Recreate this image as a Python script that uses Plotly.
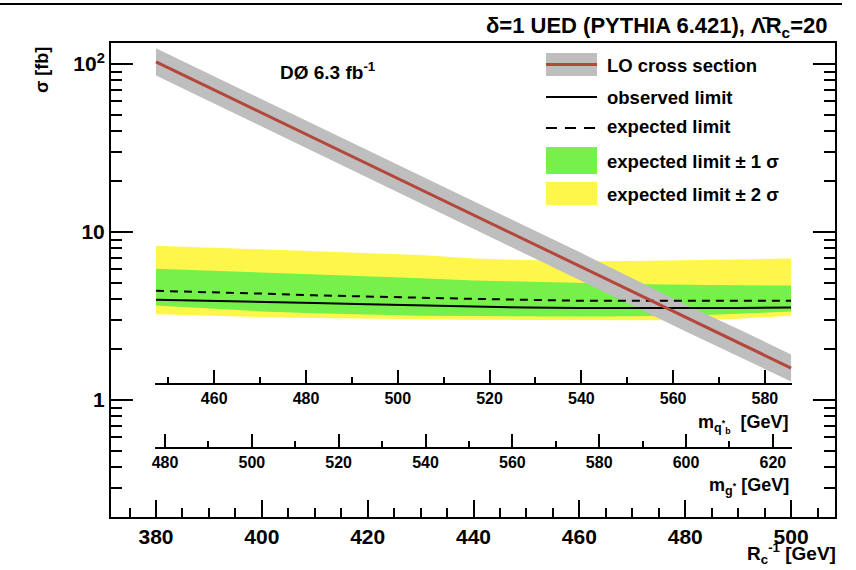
import plotly.graph_objects as go

# ---------------- data ----------------
R_inv = [380, 390, 400, 410, 420, 430, 440, 450, 460, 470, 480, 490, 500]
lo_xsec = [103, 72.6, 51.2, 36.1, 25.4, 17.9, 12.6, 8.9, 6.3, 4.4, 3.1, 2.2, 1.55]
lo_up = [124, 87.5, 61.7, 43.5, 30.6, 21.6, 15.2, 10.7, 7.6, 5.3, 3.7, 2.65, 1.87]
lo_dn = [85.5, 60.3, 42.5, 30.0, 21.1, 14.9, 10.5, 7.4, 5.2, 3.65, 2.57, 1.83, 1.29]
obs_limit = [3.95, 3.88, 3.82, 3.78, 3.72, 3.66, 3.60, 3.55, 3.53, 3.52, 3.52, 3.53, 3.55]
exp_limit = [4.47, 4.40, 4.30, 4.20, 4.12, 4.05, 4.00, 3.95, 3.90, 3.90, 3.90, 3.90, 3.90]
exp_1s_up = [6.05, 5.90, 5.75, 5.60, 5.45, 5.30, 5.15, 5.05, 4.95, 4.90, 4.85, 4.82, 4.80]
exp_1s_dn = [3.65, 3.50, 3.37, 3.28, 3.22, 3.18, 3.16, 3.14, 3.14, 3.15, 3.18, 3.26, 3.36]
exp_2s_up = [8.30, 8.10, 7.90, 7.70, 7.50, 7.30, 6.95, 6.80, 6.70, 6.72, 6.80, 6.88, 6.95]
exp_2s_dn = [3.24, 3.17, 3.11, 3.08, 3.05, 3.03, 3.01, 3.00, 2.99, 2.96, 2.98, 3.05, 3.17]

x_ticks = [380, 400, 420, 440, 460, 480, 500]
y_ticks = [1, 10, 100]
y_ticktext = ["1", "10", "10<sup>2</sup>"]
mq_ticks = [460, 480, 500, 520, 540, 560, 580]
mg_ticks = [480, 500, 520, 540, 560, 580, 600, 620]

# ---------------- geometry helpers (pixels -> paper) ----------------
W, H = 856, 570
L, Rr, T, B = 111, 835, 43, 517
def px(x):
    return (x - L) / (Rr - L)
def py(y):
    return (B - y) / (B - T)

FONT = "Liberation Sans"
YELLOW = "#FFF64C"
GREEN = "#76F04A"
GRAY = "#BEBEBE"
RED = "#B4463C"

fig = go.Figure()

# yellow band
fig.add_trace(go.Scatter(x=R_inv, y=exp_2s_dn, mode="lines", line=dict(width=0),
                         showlegend=False, hoverinfo="skip"))
fig.add_trace(go.Scatter(x=R_inv, y=exp_2s_up, mode="lines", line=dict(width=0),
                         fill="tonexty", fillcolor=YELLOW, showlegend=False, hoverinfo="skip"))
# green band
fig.add_trace(go.Scatter(x=R_inv, y=exp_1s_dn, mode="lines", line=dict(width=0),
                         showlegend=False, hoverinfo="skip"))
fig.add_trace(go.Scatter(x=R_inv, y=exp_1s_up, mode="lines", line=dict(width=0),
                         fill="tonexty", fillcolor=GREEN, showlegend=False, hoverinfo="skip"))
# gray band
fig.add_trace(go.Scatter(x=R_inv, y=lo_dn, mode="lines", line=dict(width=0),
                         showlegend=False, hoverinfo="skip"))
fig.add_trace(go.Scatter(x=R_inv, y=lo_up, mode="lines", line=dict(width=0),
                         fill="tonexty", fillcolor=GRAY, showlegend=False, hoverinfo="skip"))
# limits
fig.add_trace(go.Scatter(x=R_inv, y=obs_limit, mode="lines", line=dict(color="black", width=2),
                         showlegend=False))
fig.add_trace(go.Scatter(x=R_inv, y=exp_limit, mode="lines",
                         line=dict(color="black", width=2, dash="8px,6px"), showlegend=False))
# LO line
fig.add_trace(go.Scatter(x=R_inv, y=lo_xsec, mode="lines", line=dict(color=RED, width=3),
                         showlegend=False))

# dummy traces so the secondary mass axes are drawn
fig.add_trace(go.Scatter(x=mq_ticks, y=[None] * len(mq_ticks), xaxis="x2", yaxis="y",
                         showlegend=False, hoverinfo="skip", mode="lines"))
fig.add_trace(go.Scatter(x=mg_ticks, y=[None] * len(mg_ticks), xaxis="x3", yaxis="y",
                         showlegend=False, hoverinfo="skip", mode="lines"))

minor_y = [v * d for d in (0.1, 1, 10) for v in range(2, 10)]

sec_dom = [px(155), px(792)]

fig.update_layout(
    width=W, height=H,
    margin=dict(l=L, r=W - Rr, t=T, b=H - B),
    paper_bgcolor="white", plot_bgcolor="rgba(0,0,0,0)",
    font=dict(family=FONT, color="black"),
    xaxis=dict(range=[371.5, 508.3], tickvals=x_ticks, ticks="inside", ticklen=17, tickwidth=2,
               tickcolor="black", showline=True, linecolor="black", linewidth=2, mirror=True,
               showgrid=False, zeroline=False,
               tickfont=dict(size=21, family=FONT, weight="bold"),
               minor=dict(dtick=5, tick0=380, ticks="inside", ticklen=9, tickwidth=2,
                          tickcolor="black", showgrid=False)),
    yaxis=dict(type="log", range=[-0.696, 2.125], tickvals=y_ticks, ticktext=y_ticktext,
               ticks="inside", ticklen=22, tickwidth=2, tickcolor="black",
               showline=True, linecolor="black", linewidth=2, mirror="ticks",
               showgrid=False, zeroline=False,
               tickfont=dict(size=21, family=FONT, weight="bold"),
               minor=dict(tickvals=minor_y, ticks="inside", ticklen=11, tickwidth=2,
                          tickcolor="black", showgrid=False)),
    xaxis2=dict(domain=sec_dom, anchor="free", position=py(384), range=[447.1, 585.9],
                tick0=460, dtick=20, ticks="inside", ticklen=13, tickwidth=2, tickcolor="black",
                showline=True, linecolor="black", linewidth=2, showgrid=False, zeroline=False,
                tickfont=dict(size=16, family=FONT, weight="bold"),
                minor=dict(dtick=10, ticks="inside", ticklen=6, tickwidth=2,
                           tickcolor="black", showgrid=False)),
    xaxis3=dict(domain=sec_dom, anchor="free", position=py(448), range=[477.7, 624.4],
                tick0=480, dtick=20, ticks="inside", ticklen=13, tickwidth=2, tickcolor="black",
                showline=True, linecolor="black", linewidth=2, showgrid=False, zeroline=False,
                tickfont=dict(size=16, family=FONT, weight="bold"),
                minor=dict(dtick=10, ticks="inside", ticklen=6, tickwidth=2,
                           tickcolor="black", showgrid=False)),
    showlegend=False,
)

# ---------------- legend (drawn manually) ----------------
shapes = []
annotations = []
sx0, sx1 = px(546), px(597)
# LO band symbol
shapes.append(dict(type="rect", xref="paper", yref="paper", x0=sx0, x1=sx1, y0=py(76), y1=py(53),
                   fillcolor=GRAY, line=dict(width=0), layer="above"))
shapes.append(dict(type="line", xref="paper", yref="paper", x0=sx0, x1=sx1, y0=py(64.5), y1=py(64.5),
                   line=dict(color=RED, width=3), layer="above"))
# observed
shapes.append(dict(type="line", xref="paper", yref="paper", x0=sx0, x1=sx1, y0=py(97), y1=py(97),
                   line=dict(color="black", width=2), layer="above"))
# expected
shapes.append(dict(type="line", xref="paper", yref="paper", x0=sx0, x1=sx1, y0=py(128), y1=py(128),
                   line=dict(color="black", width=2, dash="11px,8px"), layer="above"))
# 1 sigma
shapes.append(dict(type="rect", xref="paper", yref="paper", x0=sx0, x1=sx1, y0=py(174), y1=py(147),
                   fillcolor=GREEN, line=dict(width=0), layer="above"))
# 2 sigma
shapes.append(dict(type="rect", xref="paper", yref="paper", x0=sx0, x1=sx1, y0=py(205), y1=py(182),
                   fillcolor=YELLOW, line=dict(width=0), layer="above"))

leg_items = [("LO cross section", 66), ("observed limit", 97), ("expected limit", 127),
             ("expected limit ± 1 σ", 161), ("expected limit ± 2 σ", 194)]
for txt, yy in leg_items:
    annotations.append(dict(text="<b>%s</b>" % txt, xref="paper", yref="paper", x=px(605), y=py(yy),
                            xanchor="left", yanchor="middle", showarrow=False,
                            font=dict(size=18.5, family=FONT, color="black")))

# top border line
shapes.append(dict(type="line", xref="paper", yref="paper", x0=px(0), x1=px(842), y0=py(4), y1=py(4),
                   line=dict(color="black", width=2)))

# texts
annotations.append(dict(text="<b>δ=1 UED (PYTHIA 6.421), Λ̄R<sub>c</sub>=20</b>", xref="paper", yref="paper",
                        x=px(829), y=py(27), xanchor="right", yanchor="middle", showarrow=False,
                        font=dict(size=22, family=FONT, color="black")))
annotations.append(dict(text="<b>DØ 6.3 fb<sup>-1</sup></b>", xref="paper", yref="paper",
                        x=px(278), y=py(71), xanchor="left", yanchor="middle", showarrow=False,
                        font=dict(size=19, family=FONT, color="black")))
annotations.append(dict(text="<b>σ [fb]</b>", xref="paper", yref="paper", textangle=-90,
                        x=px(42), y=py(45), xanchor="center", yanchor="top", showarrow=False,
                        font=dict(size=18, family=FONT, color="black")))
annotations.append(dict(text="<b>R<sub>c</sub><sup>-1</sup> [GeV]</b>", xref="paper", yref="paper",
                        x=px(838), y=py(553), xanchor="right", yanchor="middle", showarrow=False,
                        font=dict(size=19, family=FONT, color="black")))
annotations.append(dict(text="<b>m<sub>q<sup>*</sup><sub>b</sub></sub>  [GeV]</b>", xref="paper", yref="paper",
                        x=px(791), y=py(424), xanchor="right", yanchor="middle", showarrow=False,
                        font=dict(size=18, family=FONT, color="black")))
annotations.append(dict(text="<b>m<sub>g<sup>*</sup></sub> [GeV]</b>", xref="paper", yref="paper",
                        x=px(791), y=py(486), xanchor="right", yanchor="middle", showarrow=False,
                        font=dict(size=18, family=FONT, color="black")))

fig.update_layout(shapes=shapes, annotations=annotations)

fig.write_html("out.html")
